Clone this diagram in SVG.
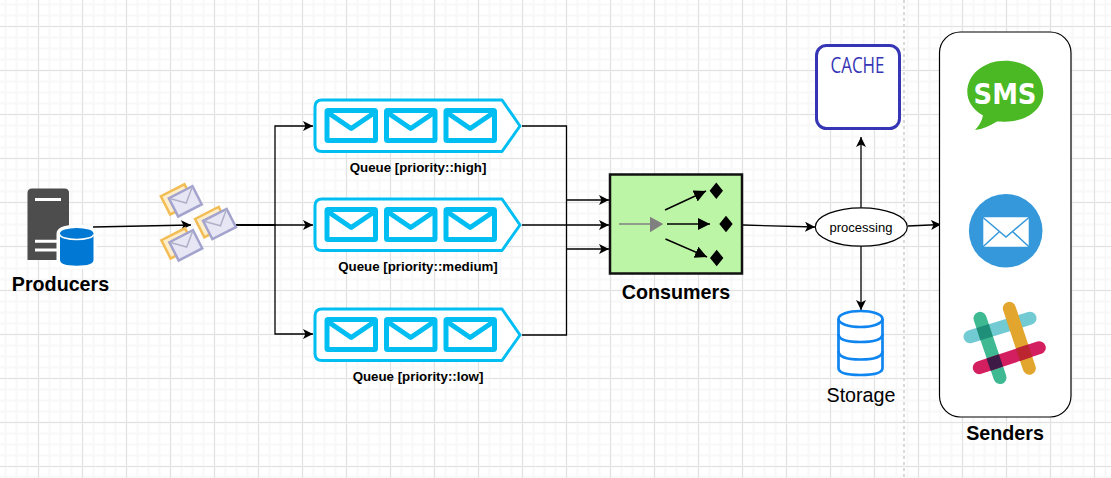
<svg xmlns="http://www.w3.org/2000/svg" xmlns:xlink="http://www.w3.org/1999/xlink" width="1111" height="478" viewBox="0 0 1111 478">
<style>
text{font-family:"Liberation Sans",Arial,sans-serif;fill:#000}
.b{font-weight:bold;font-size:19.7px;text-anchor:middle}
.c{fill:none;stroke:#000;stroke-width:1.3}
.q{font-size:13.3px;font-weight:bold;text-anchor:middle}
.m{fill:none;stroke:#00bef2;stroke-width:5;stroke-linejoin:round}
.st{fill:none;stroke:#0f85f0;stroke-width:2.7}
</style>
<defs>
<pattern id="g1" width="11" height="11" patternUnits="userSpaceOnUse"><path d="M5.500 0V11M0 4.500H11" fill="none" stroke="#f8f8f8" stroke-width="2"/></pattern>
<pattern id="g2" width="44" height="44" patternUnits="userSpaceOnUse" x="38" y="26"><path d="M44 .5H.5V44" fill="none" stroke="#e2e2e2" stroke-width="1"/></pattern>
<marker id="a" markerWidth="12" markerHeight="12" refX="10" refY="5" orient="auto" markerUnits="userSpaceOnUse"><path d="M0 0L10 5L0 10L2.500 5Z" fill="#000"/></marker>
<marker id="h" markerWidth="13" markerHeight="13" refX="12" refY="6" orient="auto" markerUnits="userSpaceOnUse"><path d="M0 0L12 6L0 12Z" fill="#000"/></marker>
<g id="mail"><rect x="0" y="0" width="48.500" height="30" rx="1" class="m"/><path class="m" d="M0 1.500L24.200 18L48.500 1.500"/></g>
<g id="queue"><path d="M7 0H187L205 26L187 51.500H7Q0 51.500 0 44.500V7Q0 0 7 0Z" fill="#fff" stroke="#00bef2" stroke-width="3" stroke-linejoin="round"/><use xlink:href="#mail" x="12" y="10.500"/><use xlink:href="#mail" x="71.500" y="10.500"/><use xlink:href="#mail" x="131" y="10.500"/></g>
<g id="env" transform="rotate(-27)"><rect x="-19.500" y="-15.600" width="26.500" height="20.500" fill="#fdeecb" stroke="#f3bd55" stroke-width="2.500"/><rect x="-13.250" y="-10.250" width="26.500" height="20.500" fill="#e6e6f4" stroke="#a3a3cd" stroke-width="2.500"/><path d="M-12.500 -9.500L0 2L12.500 -9.500" fill="none" stroke="#b0b0c8" stroke-width="1.500"/></g>
</defs>
<rect width="1111" height="478" fill="#fff"/>
<rect width="1111" height="478" fill="url(#g1)"/>
<rect width="1111" height="478" fill="url(#g2)"/>
<path d="M904 0V478" stroke="#d9d9d9" stroke-width="2" stroke-dasharray="3 3" fill="none"/>
<g id="connectors">
<path class="c" d="M93 227L191 225" marker-end="url(#a)"/>
<path class="c" d="M236 225H313" marker-end="url(#a)"/>
<path class="c" d="M236 225H275V126H313" marker-end="url(#a)"/>
<path class="c" d="M236 225H275V334H313" marker-end="url(#a)"/>
<path class="c" d="M522 126H566.500V335H522"/>
<path class="c" d="M522 225H609" marker-end="url(#a)"/>
<path class="c" d="M566 200H609" marker-end="url(#a)"/>
<path class="c" d="M566 249H609" marker-end="url(#a)"/>
<path class="c" d="M743 225L815 227" marker-end="url(#a)"/>
<path class="c" d="M861 208V137" marker-end="url(#a)"/>
<path class="c" d="M861 246V310" marker-end="url(#a)"/>
<path class="c" d="M908 226L941 224.500" marker-end="url(#a)"/>
</g>
<g id="producers">
<path d="M27.500 193Q27.500 188.500 32 188.500H64.500Q69 188.500 69 193V260H27.500Z" fill="#4d4d4d"/>
<path d="M35 199.500H61M35 241.300H61M35 250H61" stroke="#fff" stroke-width="3" fill="none"/>
<path d="M60 233.500A16.700 5.500 0 0 1 93.500 233.500V260Q93.500 265.700 76.700 265.700Q60 265.700 60 260Z" fill="#fff" stroke="#fff" stroke-width="7"/>
<path d="M60 233.500A16.700 5.500 0 0 1 93.500 233.500V260Q93.500 265.700 76.700 265.700Q60 265.700 60 260Z" fill="#0078d4"/>
<path d="M60 234.500A16.700 5 0 0 0 93.500 234.500" fill="none" stroke="#fff" stroke-width="1.500"/>
<text x="60.500" y="291" class="b">Producers</text>
</g>
<g id="messages">
<use xlink:href="#env" x="185.300" y="201.300"/>
<use xlink:href="#env" x="185.800" y="245.300"/>
<use xlink:href="#env" x="219.500" y="224"/>
</g>
<g id="queue-high"><use xlink:href="#queue" x="315" y="100"/><text x="418" y="172" class="q">Queue [priority::high]</text></g>
<g id="queue-medium"><use xlink:href="#queue" x="315" y="199"/><text x="418" y="271" class="q">Queue [priority::medium]</text></g>
<g id="queue-low"><use xlink:href="#queue" x="315" y="309"/><text x="418" y="381" class="q">Queue [priority::low]</text></g>
<g id="consumers">
<rect x="610" y="174.500" width="132" height="99" fill="#bdf5a6" stroke="#111" stroke-width="2.500"/>
<path d="M619 224H651" stroke="#808080" stroke-width="1.500"/>
<path d="M650 216.700L663.300 224L650 232.300Z" fill="#808080"/>
<g stroke="#000" stroke-width="1.500" fill="none">
<path d="M665 210L706 191" marker-end="url(#h)"/>
<path d="M667 224H710" marker-end="url(#h)"/>
<path d="M665.500 239L707 257" marker-end="url(#h)"/>
</g>
<path d="M716.300 182.400L723 190.700L716.300 199L709.600 190.700ZM726 215.700L732.700 224L726 232.300L719.300 224ZM716.700 249.700L723.400 258L716.700 266.300L710 258Z" fill="#000"/>
<text x="676" y="299" class="b">Consumers</text>
</g>
<g id="processing">
<ellipse cx="861.300" cy="227" rx="46" ry="19.200" fill="#fff" stroke="#000" stroke-width="1.200"/>
<text x="861" y="232" font-size="13" text-anchor="middle">processing</text>
</g>
<g id="cache">
<rect x="816.500" y="45.500" width="83" height="83" rx="10" fill="#fff" stroke="#3535b5" stroke-width="3"/>
<text x="857.500" y="73" style="font-family:'Open Sans','Noto Sans',sans-serif;fill:#3535b5" font-size="22" text-anchor="middle" textLength="54" lengthAdjust="spacingAndGlyphs">CACHE</text>
</g>
<g id="storage">
<path d="M838.500 319V368Q838.500 375 860.500 375Q882.500 375 882.500 368V319" class="st" style="fill:#fff"/>
<ellipse cx="860.500" cy="319" rx="22" ry="8" class="st"/>
<path class="st" d="M838.500 334Q838.500 342 860.500 342Q882.500 342 882.500 334M838.500 351Q838.500 359.500 860.500 359.500Q882.500 359.500 882.500 351"/>
<text x="861" y="402" font-size="19.700" text-anchor="middle">Storage</text>
</g>
<g id="senders">
<rect x="939.500" y="32" width="131.500" height="385" rx="21" fill="#fff" stroke="#000" stroke-width="1.200"/>
<text x="1005" y="440" class="b">Senders</text>
</g>
<g id="sms">
<path d="M1005 60.700C1027 60.700 1043.300 74 1043.300 92C1043.300 110 1026 121.700 1005 121.700C1002 121.700 999 121.500 997 121.500C990 126 983 129 975 130C979 126 982 121 983 115.500C973 110 967.300 101 967.300 92C967.300 74 984 60.700 1005 60.700Z" fill="#4bb924"/>
<text x="1005" y="103.800" font-size="28" font-weight="bold" text-anchor="middle" style="font-family:'DejaVu Sans',sans-serif;fill:#fff" textLength="63" lengthAdjust="spacingAndGlyphs">SMS</text>
</g>
<g id="email">
<circle cx="1005.700" cy="230.800" r="36.800" fill="#3498db"/>
<path d="M983.300 217.300H1028.700V246.700H983.300Z" fill="#fff"/>
<path d="M983 217.500L1006 237L1029 217.500M983 246.800L999 232M1029 246.800L1013 232" fill="none" stroke="#3498db" stroke-width="1.500"/>
</g>
<g id="slack" fill="none" stroke-width="13" stroke-linecap="round">
<path d="M970 336.700L1030 318.300" stroke="#72cad3"/>
<path d="M980 318.300L1000 377.500" stroke="#3eb991"/>
<path d="M1009.300 308.300L1029.300 368.300" stroke="#e2a52e"/>
<path d="M979.300 367.700L1039.300 347.700" stroke="#d31f60"/>
<g stroke="none">
<rect x="-6.500" y="-6.500" width="13" height="13" fill="#1f8f7a" transform="translate(984.600 332.200) rotate(-17.500)"/>
<rect x="-6.500" y="-6.500" width="13" height="13" fill="#3e1a47" transform="translate(994.800 362.500) rotate(-18.500)"/>
<rect x="-6.500" y="-6.500" width="13" height="13" fill="#bc2630" transform="translate(1024.100 352.700) rotate(-18.500)"/>
</g>
</g>
</svg>
